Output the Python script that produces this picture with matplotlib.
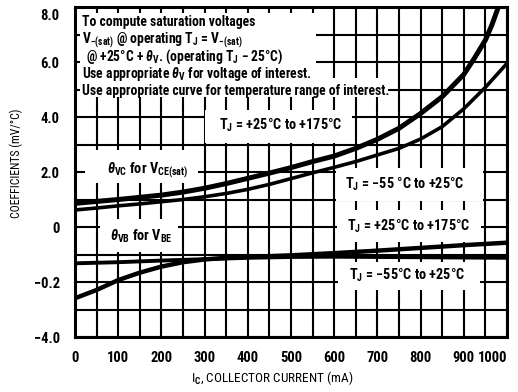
import matplotlib
matplotlib.use("Agg")
import matplotlib.pyplot as plt
import matplotlib.transforms as mtransforms
from matplotlib.patches import Rectangle

plt.rcParams['font.family'] = ['Roboto Condensed', 'Liberation Sans', 'DejaVu Sans']
plt.rcParams['font.weight'] = 'bold'
plt.rcParams['mathtext.fontset'] = 'custom'
plt.rcParams['mathtext.rm'] = 'Roboto Condensed:bold'
plt.rcParams['mathtext.it'] = 'Roboto Condensed:italic:bold'
plt.rcParams['mathtext.bf'] = 'Roboto Condensed:bold'

# theta_VC for VCE(sat), TJ = +25 to +175 C
vc_hot_ic = [0, 50, 100, 150, 200, 250, 300, 350, 400, 450, 500, 550, 600,
             650, 700, 750, 800, 850, 900, 925, 950, 965, 980, 990]
vc_hot = [0.86, 0.93, 1.00, 1.08, 1.16, 1.27, 1.41, 1.58, 1.77, 1.96, 2.16,
          2.38, 2.58, 2.86, 3.19, 3.59, 4.13, 4.74, 5.55, 6.15, 6.80, 7.35,
          8.0, 8.5]

# theta_VC for VCE(sat), TJ = -55 to +25 C
vc_cold_ic = [0, 50, 100, 150, 200, 250, 300, 350, 400, 450, 500, 550, 600,
              650, 700, 750, 800, 850, 900, 950, 1000]
vc_cold = [0.62, 0.69, 0.77, 0.84, 0.92, 1.00, 1.10, 1.22, 1.37, 1.55, 1.76,
           1.97, 2.17, 2.38, 2.62, 2.86, 3.20, 3.65, 4.30, 5.08, 5.95]

# theta_VB for VBE, TJ = +25 to +175 C
vb_hot_ic = [0, 50, 100, 150, 200, 250, 300, 350, 400, 450, 500, 600, 700,
             800, 900, 1000]
vb_hot = [-2.59, -2.29, -1.93, -1.66, -1.44, -1.28, -1.18, -1.12, -1.08,
          -1.06, -1.03, -0.95, -0.86, -0.76, -0.66, -0.57]

# theta_VB for VBE, TJ = -55 to +25 C
vb_cold_ic = [0, 100, 200, 300, 400, 500, 600, 700, 800, 900, 1000]
vb_cold = [-1.32, -1.28, -1.22, -1.17, -1.12, -1.09, -1.08, -1.09, -1.10,
           -1.11, -1.12]

x_ticks = [0, 100, 200, 300, 400, 500, 600, 700, 800, 900, 1000]
y_ticks = [-4, -2, 0, 2, 4, 6, 8]
y_tick_labels = ['\u22124.0', '\u22120.2', '0', '2.0', '4.0', '6.0', '8.0']

fig = plt.figure(figsize=(5.18, 3.92), dpi=100)
ax = fig.add_axes([0.1448, 0.1403, 0.834, 0.8418])

ax.set_xlim(0, 1000)
ax.set_ylim(-4, 8)

# heavy chart-paper grid
ax.set_xticks(range(0, 1001, 50), minor=True)
ax.set_yticks(range(-4, 9), minor=True)
ax.grid(which='both', color='black', linewidth=1.5)
ax.set_axisbelow(True)
ax.tick_params(which='both', length=0)
for sp in ax.spines.values():
    sp.set_linewidth(2.2)

ax.set_xticks(x_ticks)
ax.set_xticklabels([str(v) for v in x_ticks], fontsize=10.5)
ax.set_yticks(y_ticks)
ax.set_yticklabels(y_tick_labels, fontsize=10.5)
ax.tick_params(axis='x', pad=10)
ax.tick_params(axis='y', pad=11)
ax.get_xticklabels()[-1].set_horizontalalignment('right')
lab8 = ax.get_yticklabels()[-1]
lab8.set_transform(lab8.get_transform() +
                   mtransforms.ScaledTranslation(0, -0.07, fig.dpi_scale_trans))

ax.set_ylabel('COEFFICIENTS (mV/\u00b0C)', fontsize=8.5)
ax.yaxis.set_label_coords(-0.12, 0.527)
ax.set_xlabel(r'I$_\mathrm{C}$, COLLECTOR CURRENT (mA)', fontsize=9.5)
ax.xaxis.set_label_coords(0.456, -0.097)


def blank(x0, x1, y0, y1):
    # white patch that breaks the grid behind a label
    ax.add_patch(Rectangle((x0, y0), x1 - x0, y1 - y0, facecolor='white',
                           edgecolor='none', zorder=2))


blank(12, 558, 4.73, 7.78)
blank(558, 725, 4.73, 5.42)
blank(301, 642, 3.05, 4.25)
blank(23, 285, 1.6, 2.8)
blank(605, 945, 0.95, 2.15)
blank(607, 940, -0.55, 0.62)
blank(609, 938, -2.29, -1.27)
blank(58, 239, -0.91, 0.29)

ax.plot(vc_hot_ic, vc_hot, color='black', lw=3.6, zorder=3,
        solid_capstyle='butt')
ax.plot(vc_cold_ic, vc_cold, color='black', lw=2.6, zorder=3,
        solid_capstyle='butt')
ax.plot(vb_hot_ic, vb_hot, color='black', lw=3.2, zorder=3,
        solid_capstyle='butt')
ax.plot(vb_cold_ic, vb_cold, color='black', lw=2.8, zorder=3,
        solid_capstyle='butt')

note = [
    (16, 7.31, 'To compute saturation voltages'),
    (16, 6.68, r'V$_{\mathrm{-(sat)}}$ @ operating T$_\mathrm{J}$ = V$_{\mathrm{-(sat)}}$'),
    (25, 6.04, r'@ +25$\degree$C + $\theta_\mathrm{V}$. (operating T$_\mathrm{J}$ $-$ 25$\degree$C)'),
    (16, 5.43, r'Use appropriate $\theta_\mathrm{V}$ for voltage of interest.'),
    (16, 4.79, 'Use appropriate curve for temperature range of interest.'),
]
for x, y, s in note:
    ax.text(x, y, s, fontsize=9.8, ha='left', va='baseline', zorder=4)

labels = [
    (477, 3.71, 'T$_\\mathrm{J}$ = +25\u00b0C to +175\u00b0C'),
    (167, 2.07, r'$\theta_\mathrm{VC}$ for V$_\mathrm{CE(sat)}$'),
    (764, 1.56, 'T$_\\mathrm{J}$ = \u221255 \u00b0C to +25\u00b0C'),
    (773, 0.04, 'T$_\\mathrm{J}$ = +25\u00b0C to +175\u00b0C'),
    (769, -1.75, 'T$_\\mathrm{J}$ = \u221255\u00b0C to +25\u00b0C'),
    (153, -0.35, r'$\theta_\mathrm{VB}$ for V$_\mathrm{BE}$'),
]
for x, y, s in labels:
    ax.text(x, y, s, fontsize=10.3, ha='center', va='center', zorder=4)

fig.savefig('out.png', dpi=100)
